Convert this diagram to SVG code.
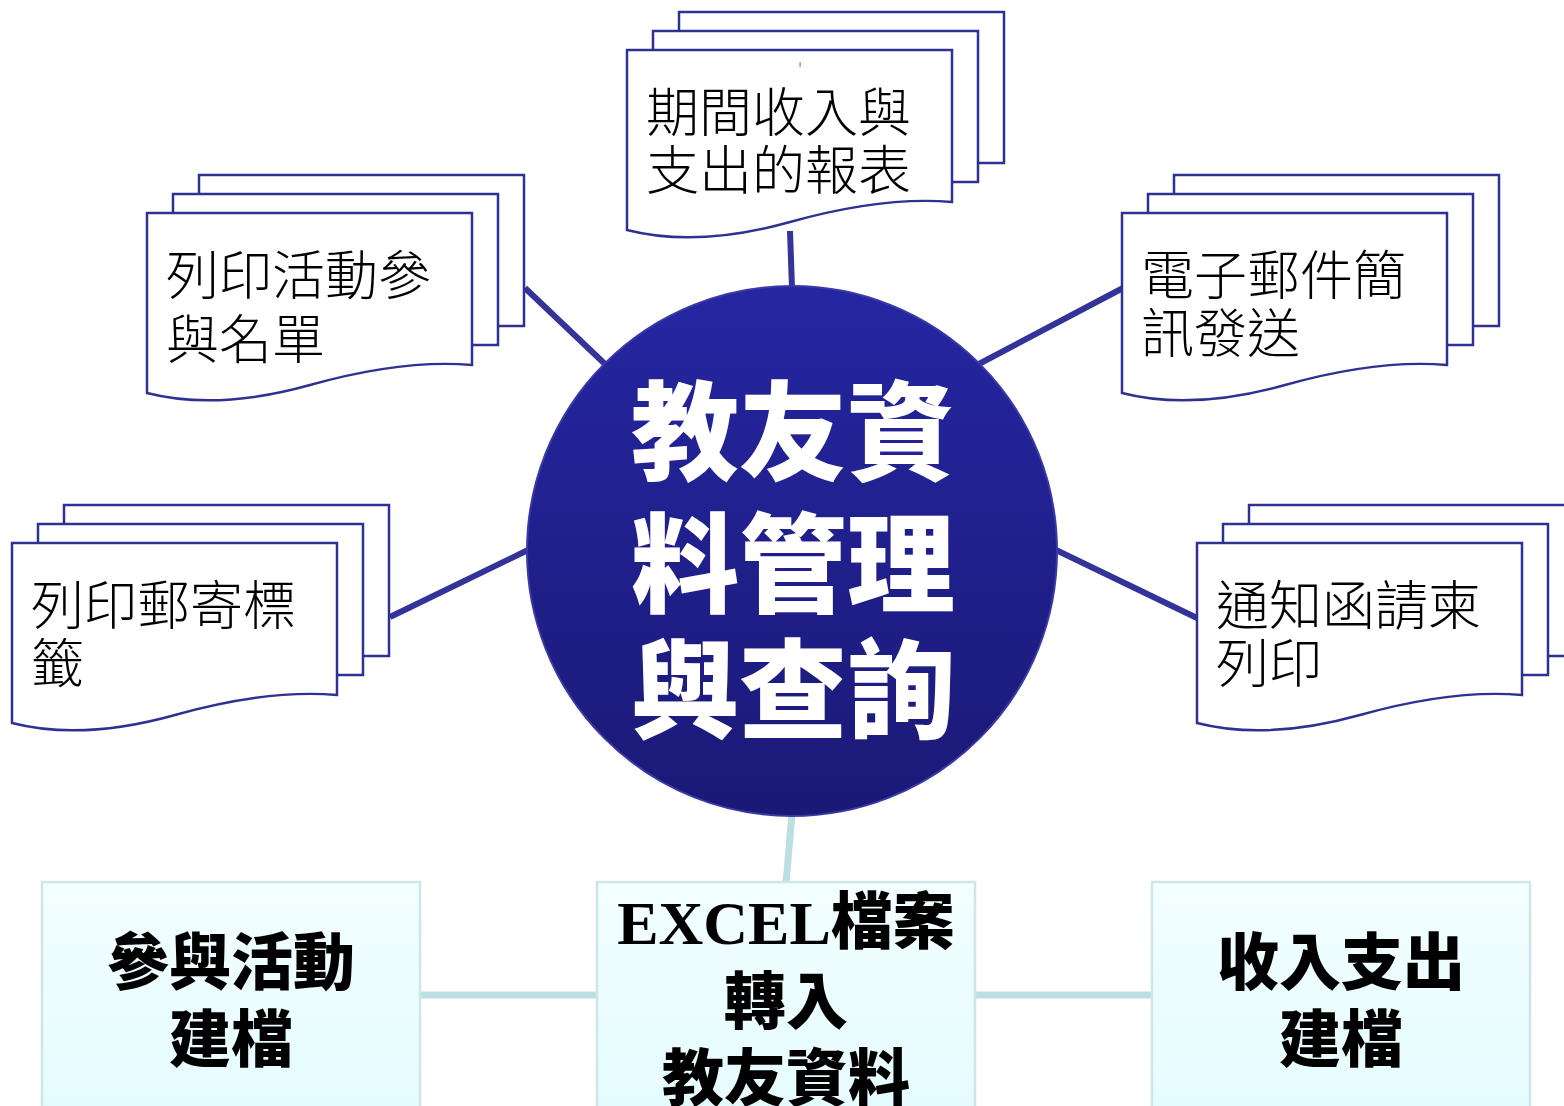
<svg xmlns="http://www.w3.org/2000/svg" xmlns:xlink="http://www.w3.org/1999/xlink" width="1564" height="1106" viewBox="0 0 1564 1106">
<style>
.pg{fill:#fff;stroke:#2E3192;stroke-width:2.5}
.dt{font-family:"Noto Sans CJK TC","Noto Sans CJK SC",sans-serif;font-weight:300;font-size:53px;fill:#000}
.cn{stroke:#333399;stroke-width:6;stroke-linecap:butt;fill:none}
.cl{stroke:#BCDFE2;stroke-width:7;fill:none}
.bx{fill:url(#bxg);stroke:#CFE6E8;stroke-width:2.5}
.bt{font-family:"Noto Sans CJK TC","Noto Sans CJK SC",sans-serif;font-weight:900;font-size:62px;fill:#000;text-anchor:middle}
.ct{font-family:"Noto Sans CJK TC","Noto Sans CJK SC",sans-serif;font-weight:900;font-size:108px;fill:#fff;text-anchor:middle}
.lat{font-family:"Liberation Serif",serif;font-weight:bold}
</style>
<defs>
<linearGradient id="cg" x1="0" y1="0" x2="0" y2="1">
<stop offset="0" stop-color="#2526A2"/>
<stop offset="1" stop-color="#1B1976"/>
</linearGradient>
<linearGradient id="bxg" x1="0" y1="0" x2="0" y2="1">
<stop offset="0" stop-color="#F3FEFF"/>
<stop offset="1" stop-color="#E4FCFE"/>
</linearGradient>
<path id="page" d="M0,0 H325 V151 H0 Z"/>
<path id="front" d="M0,180 V0 H325 V152 Q256,146 163,172 Q70,198 0,180 Z"/>
</defs>
<rect width="1564" height="1106" fill="#fff"/>

<g id="connectors">
<line class="cn" x1="790" y1="231" x2="792" y2="288"/>
<line class="cn" x1="525" y1="288" x2="606" y2="365"/>
<line class="cn" x1="977" y1="365" x2="1123" y2="288"/>
<line class="cn" x1="390" y1="617" x2="528" y2="550"/>
<line class="cn" x1="1056" y1="550" x2="1197" y2="618"/>
<line class="cl" x1="792" y1="814" x2="786" y2="883"/>
<line class="cl" x1="420" y1="995" x2="597" y2="995"/>
<line class="cl" x1="975" y1="995" x2="1152" y2="995"/>
</g>

<g id="center">
<circle cx="792" cy="551" r="265" fill="url(#cg)" stroke="#3A3AA6" stroke-width="2"/>
<text class="ct" x="793" y="472">教友資</text>
<text class="ct" x="793" y="604">料管理</text>
<text class="ct" x="793" y="730">與查詢</text>
</g>

<g id="doc-report" transform="translate(627,50)">
<use href="#page" class="pg" x="52" y="-38"/>
<use href="#page" class="pg" x="26" y="-19"/>
<use href="#front" class="pg"/>
<rect x="172.5" y="12" width="1.2" height="5" fill="#E0703A"/>
<text class="dt" x="19" y="82">期間收入與</text>
<text class="dt" x="19" y="140">支出的報表</text>
</g>

<g id="doc-activity" transform="translate(147,213)">
<use href="#page" class="pg" x="52" y="-38"/>
<use href="#page" class="pg" x="26" y="-19"/>
<use href="#front" class="pg"/>
<text class="dt" x="19" y="82">列印活動參</text>
<text class="dt" x="19" y="146">與名單</text>
</g>

<g id="doc-email" transform="translate(1122,213)">
<use href="#page" class="pg" x="52" y="-38"/>
<use href="#page" class="pg" x="26" y="-19"/>
<use href="#front" class="pg"/>
<text class="dt" x="19" y="82">電子郵件簡</text>
<text class="dt" x="19" y="140">訊發送</text>
</g>

<g id="doc-label" transform="translate(12,543)">
<use href="#page" class="pg" x="52" y="-38"/>
<use href="#page" class="pg" x="26" y="-19"/>
<use href="#front" class="pg"/>
<text class="dt" x="19" y="82">列印郵寄標</text>
<text class="dt" x="19" y="140">籤</text>
</g>

<g id="doc-invite" transform="translate(1197,543)">
<use href="#page" class="pg" x="52" y="-38"/>
<use href="#page" class="pg" x="26" y="-19"/>
<use href="#front" class="pg"/>
<text class="dt" x="19" y="82">通知函請柬</text>
<text class="dt" x="19" y="140">列印</text>
</g>

<g id="box-activity">
<rect class="bx" x="42" y="882" width="378" height="240"/>
<text class="bt" x="231" y="985">參與活動</text>
<text class="bt" x="231" y="1062">建檔</text>
</g>

<g id="box-excel">
<rect class="bx" x="597" y="882" width="378" height="240"/>
<text class="bt" x="786" y="944"><tspan class="lat">EXCEL</tspan>檔案</text>
<text class="bt" x="786" y="1024">轉入</text>
<text class="bt" x="786" y="1101">教友資料</text>
</g>

<g id="box-finance">
<rect class="bx" x="1152" y="882" width="378" height="240"/>
<text class="bt" x="1341" y="985">收入支出</text>
<text class="bt" x="1341" y="1062">建檔</text>
</g>
</svg>
